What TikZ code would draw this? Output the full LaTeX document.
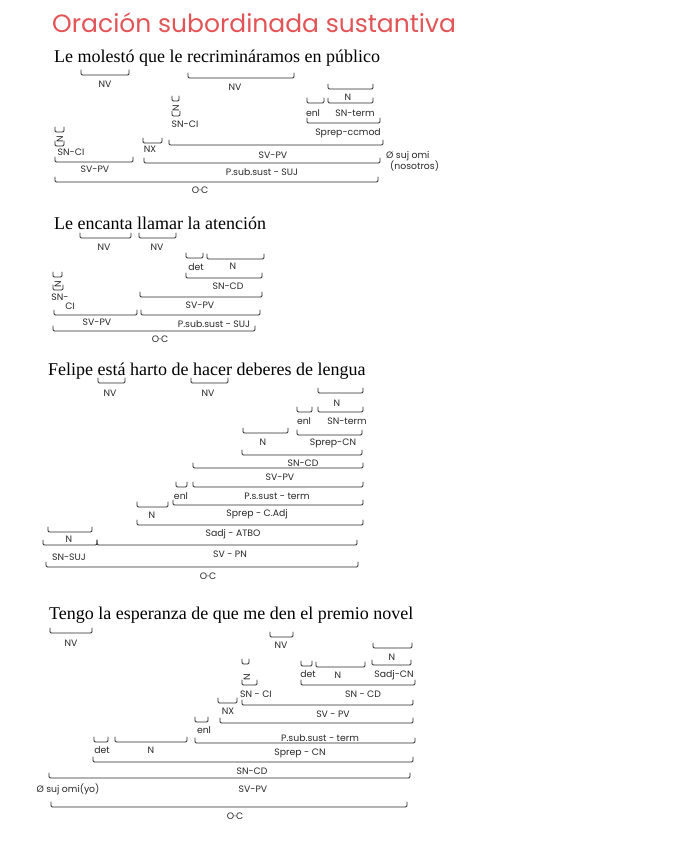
\documentclass[tikz,border=0pt]{standalone}
\usepackage{fontspec}
\setmainfont{Liberation Serif}
\newfontfamily\hand{Poppins}
\definecolor{titlered}{RGB}{226,84,86}
\definecolor{ink}{RGB}{40,40,40}
\newcommand{\brk}[3]{\draw[brkline] (#1,{#3-5}) -- (#1,#3) -- (#2,#3) -- (#2,{#3-5});}
\tikzset{
  brkline/.style={draw=ink, line width=0.9pt, line cap=round, line join=round, rounded corners=1.2pt},
  lab/.style={font=\hand\fontsize{9.3}{10}\selectfont, text=ink, inner sep=0pt},
  sent/.style={font=\fontsize{18}{20}\selectfont, text=black, inner sep=0pt, anchor=base west},
}
\begin{document}
\begin{tikzpicture}[x=1pt,y=-1pt]
\useasboundingbox[fill=white] (0,0) rectangle (675,848);
% title
\node[font=\hand\fontsize{25}{28}\selectfont, text=titlered, anchor=base west, inner sep=0pt] (title) at (52,33) {Oración subordinada sustantiva};

% ===== Sentence 1 =====
\node[sent] (s1) at (54,63) {Le molestó que le recrimináramos en público};
\brk{81}{129}{75} \node[lab] (a1) at (105,84) {NV};
\brk{188}{294}{78} \node[lab] (a2) at (235,87) {NV};
\brk{328}{373}{89} \node[lab] (a3) at (348,97) {N};
\brk{307}{324}{103} \node[lab] (a4) at (313,113) {enl};
\brk{328}{373}{103} \node[lab] (a5) at (355,113) {SN-term};
\brk{307}{380}{123} \node[lab] (a6) at (348,133) {Sprep-ccmod};
% vertical N (second le)
\brk{172}{179}{101} \node[lab, rotate=90] (a7) at (176,108) {N};
\brk{172}{180}{116} \node[lab] (a8) at (185,124) {SN-CI};
% vertical N (first Le)
\brk{55}{64}{132} \node[lab, rotate=90] (a9) at (60,139) {N};
\brk{55}{64}{146} \node[lab] (a10) at (71,152) {SN-CI};
\brk{143}{162}{143} \node[lab] (a11) at (150,149) {NX};
\brk{169}{383}{145} \node[lab] (a12) at (273,155) {SV-PV};
\brk{55}{133}{162} \node[lab] (a13) at (95,169) {SV-PV};
\brk{144}{380}{163} \node[lab] (a14) at (262,172) {P.sub.sust - SUJ};
\node[lab, anchor=west] (a15) at (386,156) {Ø suj omi};
\node[lab, anchor=west] (a16) at (390,166) {(nosotros)};
\brk{55}{378}{182} \node[lab] (a17) at (200,190) {O·C};

% ===== Sentence 2 =====
\node[sent] (s2) at (54,229) {Le encanta llamar la atención};
\brk{80}{131}{238} \node[lab] (b1) at (104,247) {NV};
\brk{139}{176}{238} \node[lab] (b2) at (157,247) {NV};
\brk{186}{203}{258} \node[lab] (b3) at (196,267) {det};
\brk{207}{264}{259} \node[lab] (b4) at (233,266) {N};
\brk{186}{262}{278} \node[lab] (b5) at (228,286) {SN-CD};
\brk{53}{62}{277} \node[lab, rotate=90] (b6) at (58,284) {N};
\brk{53}{63}{290} \node[lab] (b7) at (60,297) {SN-};
\node[lab] (b8) at (70,306) {CI};
\brk{140}{262}{297} \node[lab] (b9) at (200,305) {SV-PV};
\brk{54}{137}{315} \node[lab] (b10) at (97,322) {SV-PV};
\brk{141}{260}{315} \node[lab] (b11) at (214,324) {P.sub.sust - SUJ};
\brk{53}{255}{331} \node[lab] (b12) at (160,339) {O·C};

% ===== Sentence 3 =====
\node[sent] (s3) at (48,375) {Felipe está harto de hacer deberes de lengua};
\brk{98}{125}{383} \node[lab] (c1) at (110,393) {NV};
\brk{191}{228}{383} \node[lab] (c2) at (208,393) {NV};
\brk{318}{363}{393} \node[lab] (c3) at (337,403) {N};
\brk{297}{312}{412} \node[lab] (c4) at (304,421) {enl};
\brk{318}{363}{412} \node[lab] (c5) at (347,421) {SN-term};
\brk{243}{288}{433} \node[lab] (c6) at (263,442) {N};
\brk{297}{362}{435} \node[lab] (c7) at (333,443) {Sprep-CN};
\brk{242}{362}{455} \node[lab] (c8) at (303,463) {SN-CD};
\brk{193}{363}{468} \node[lab] (c9) at (280,477) {SV-PV};
\brk{176}{187}{487} \node[lab] (c10) at (181,496) {enl};
\brk{193}{363}{487} \node[lab] (c11) at (277,496) {P.s.sust - term};
\brk{137}{168}{507} \node[lab] (c12) at (152,515) {N};
\brk{173}{363}{505} \node[lab] (c13) at (257,514) {Sprep - C.Adj};
\brk{137}{363}{525} \node[lab] (c14) at (233,534) {Sadj - ATBO};
\brk{48}{92}{532} \node[lab] (c15) at (69,539) {N};
\brk{43}{97}{545} \node[lab] (c16) at (69,557) {SN-SUJ};
\brk{97}{357}{545} \node[lab] (c17) at (230,554) {SV - PN};
\brk{46}{358}{567} \node[lab] (c18) at (208,576) {O·C};

% ===== Sentence 4 =====
\node[sent] (s4) at (49,619) {Tengo la esperanza de que me den el premio novel};
\brk{50}{92}{633} \node[lab] (d1) at (71,643) {NV};
\brk{270}{293}{637} \node[lab] (d2) at (281,645) {NV};
\brk{373}{412}{648} \node[lab] (d3) at (392,657) {N};
\brk{301}{312}{666} \node[lab] (d4) at (308,674) {det};
\brk{316}{365}{667} \node[lab] (d5) at (338,675) {N};
\brk{372}{411}{665} \node[lab] (d6) at (394,675) {Sadj-CN};
\brk{242}{249}{664} \node[lab, rotate=90] (d7) at (247,677) {N};
\brk{242}{257}{685} \node[lab] (d8) at (256,694) {SN - CI};
\brk{301}{415}{685} \node[lab] (d9) at (363,694) {SN - CD};
\brk{218}{237}{703} \node[lab] (d10) at (228,711) {NX};
\brk{242}{413}{705} \node[lab] (d11) at (333,714) {SV - PV};
\brk{195}{208}{722} \node[lab] (d12) at (204,730) {enl};
\brk{220}{413}{723} \node[lab] (d13) at (320,738) {P.sub.sust - term};
\brk{94}{108}{742} \node[lab] (d14) at (102,750) {det};
\brk{115}{187}{742} \node[lab] (d15) at (151,750) {N};
\brk{195}{415}{743} \node[lab] (d16) at (300,753) {Sprep - CN};
\brk{93}{413}{762} \node[lab] (d17) at (252,771) {SN-CD};
\brk{49}{410}{778} \node[lab] (d18) at (253,789) {SV-PV};
\node[lab] (d19) at (68,789) {Ø suj omi(yo)};
\brk{51}{407}{807} \node[lab] (d20) at (235,816) {O·C};
\end{tikzpicture}
\end{document}
